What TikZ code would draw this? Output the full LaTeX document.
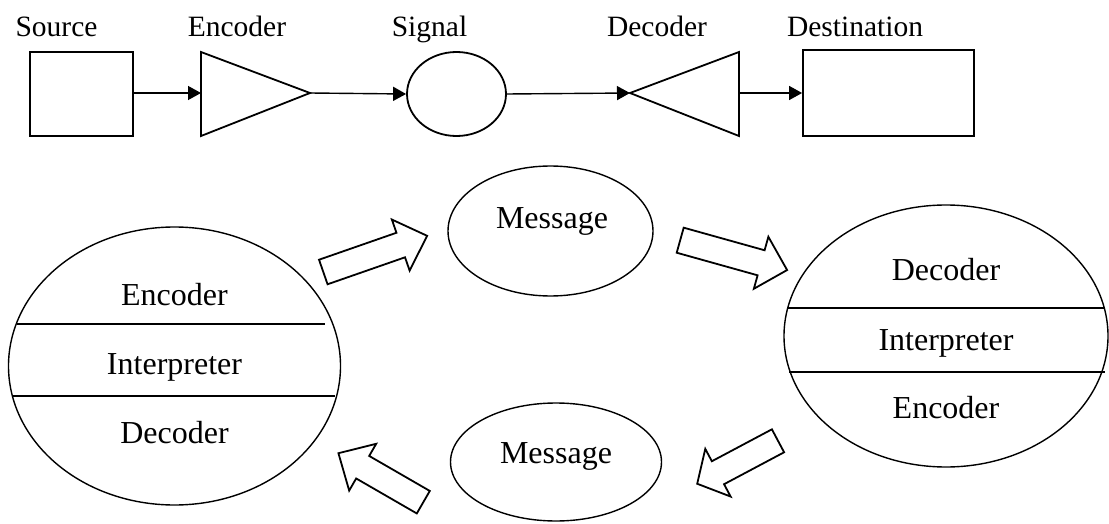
\documentclass[tikz,border=0pt]{standalone}
\usepackage{fontspec}
\setmainfont{Liberation Serif}
\usetikzlibrary{arrows.meta,shapes.geometric}

\tikzset{
  pics/blockarrow/.style n args={2}{code={
    % hollow block arrow: #1 = total length, #2 = shaft length
    \draw[line width=1.8pt, line join=miter, fill=white]
      (0,-13) -- (#2,-13) -- (#2,-27) -- (#1,0) -- (#2,27) -- (#2,13) -- (0,13) -- cycle;
  }}
}

\begin{document}
\begin{tikzpicture}[x=1pt,y=-1pt,
  thickline/.style={line width=1.8pt},
  conn/.style={line width=1.4pt,-{Triangle[length=13pt,width=14pt]}},
  toplbl/.style={font=\fontsize{29.5}{34}\selectfont, inner sep=0pt, anchor=base},
  txt/.style={font=\fontsize{32}{38}\selectfont, inner sep=0pt, anchor=base},
  bigoval/.style={draw, ellipse, line width=1.4pt, inner sep=0pt},
  box/.style={draw, rectangle, line width=1.8pt, inner sep=0pt}]

\useasboundingbox (0,0) rectangle (1109,524);

% ---- linear model ----
\node[toplbl] (lsrc) at (56.5,37) {Source};
\node[toplbl] (lenc) at (237,37) {Encoder};
\node[toplbl] (lsig) at (429.5,37) {Signal};
\node[toplbl] (ldec) at (657,37) {Decoder};
\node[toplbl] (ldst) at (855,37) {Destination};

\node[box, minimum width=103pt, minimum height=84pt] (src) at (81.5,94) {};
\draw[thickline, line join=miter] (201,52) -- (310,93) -- (201,136) -- cycle;
\coordinate (encin) at (201,93);
\coordinate (encout) at (310,93);
\node[draw, ellipse, thickline, inner sep=0pt, minimum width=99pt, minimum height=84pt] (sig) at (456.5,94) {};
\draw[thickline, line join=miter] (739,52) -- (630,93) -- (739,136) -- cycle;
\coordinate (decin) at (630,93);
\coordinate (decout) at (739,93);
\node[box, minimum width=171pt, minimum height=86pt] (dst) at (888.5,93) {};

\draw[conn] (src.east |- encin) -- (encin);
\draw[conn] (encout) -- (sig.west);
\draw[conn] (sig.east) -- (decin);
\draw[conn] (decout) -- (dst.west |- decout);

% ---- interactive model ----
\node[bigoval, minimum width=332pt, minimum height=278pt] (left) at (174.5,366) {};
\draw[line width=1.4pt] (17,324) -- (325,324);
\draw[line width=1.4pt] (12,396) -- (335,396);
\node[txt] (lenc2) at (174.5,305) {Encoder};
\node[txt] (lint) at (174.5,374) {Interpreter};
\node[txt] (ldec2) at (174.5,443) {Decoder};

\node[bigoval, minimum width=324pt, minimum height=262pt] (right) at (946,336) {};
\draw[line width=1.4pt] (788,308) -- (1105,308);
\draw[line width=1.4pt] (789,372) -- (1105,372);
\node[txt] (rdec) at (946,280) {Decoder};
\node[txt] (rint) at (946,350) {Interpreter};
\node[txt] (renc) at (946,418) {Encoder};

\node[bigoval, minimum width=205pt, minimum height=130pt] (msg1) at (550.5,231) {};
\node[txt] (lmsg1) at (552,228) {Message};
\node[bigoval, minimum width=211pt, minimum height=118pt] (msg2) at (556,462) {};
\node[txt] (lmsg2) at (556,463) {Message};

\pic[rotate=19.2] at (323.3,272) {blockarrow={110}{82}};
\pic[rotate=-15.6] at (680.2,240.2) {blockarrow={111}{84}};
\pic[rotate=208] at (778,440.8) {blockarrow={91.5}{68}};
\pic[rotate=150] at (423.3,502.2) {blockarrow={98}{70}};

\end{tikzpicture}
\end{document}
